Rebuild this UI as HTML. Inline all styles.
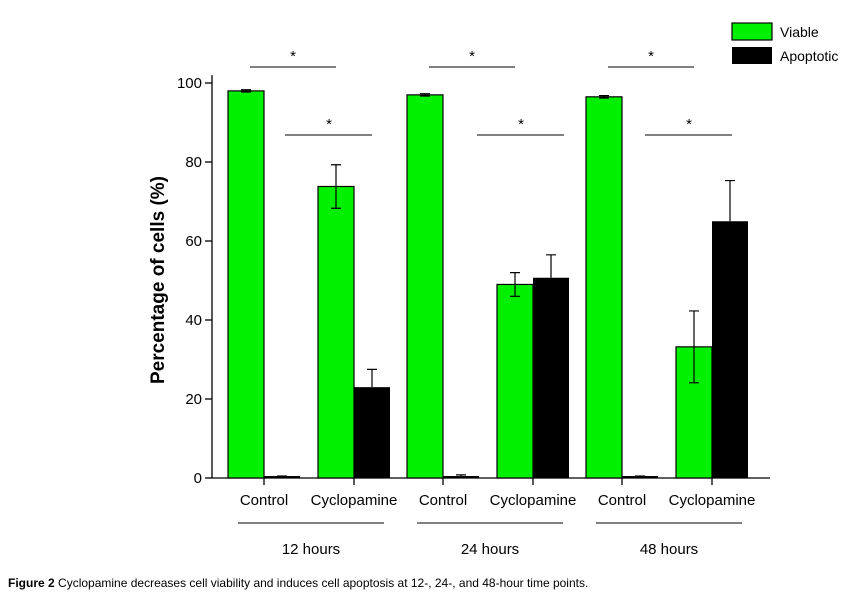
<!DOCTYPE html>
<html><head><meta charset="utf-8"><style>
body{margin:0;background:#fff;}
svg text{font-family:"Liberation Sans",Arial,sans-serif;}
</style></head><body>
<svg id="chart" width="855" height="593" xmlns="http://www.w3.org/2000/svg"></svg>
<script>
const groups=["12 hours","24 hours","48 hours"];
const conditions=["Control","Cyclopamine"];
const viable=[98,73.8,97,49,96.5,33.2];
const viableErr=[0.3,5.5,0.3,3,0.3,9.1];
const apoptotic=[0.5,23,0.5,50.7,0.5,65];
const apoptoticErr=[0,4.5,0.3,5.8,0,10.3];
const yTicks=[0,20,40,60,80,100];

const svg=document.getElementById('chart');
const NS="http://www.w3.org/2000/svg";
function el(tag,attrs,parent){const e=document.createElementNS(NS,tag);for(const k in attrs)e.setAttribute(k,attrs[k]);(parent||svg).appendChild(e);return e;}
const y0=478,y100=83;
function yS(v){return y0-(y0-y100)*v/100;}
const bw=36;
function catX(i){const g=Math.floor(i/2),c=i%2;return 264+g*179+c*90;}

const ax=el('line',{x1:212,y1:yS(102),x2:212,y2:y0,stroke:'#000','stroke-width':1.3});


const xa=el('line',{x1:212,y1:y0,x2:770,y2:y0,stroke:'#000','stroke-width':1.3});


yTicks.forEach(t=>{
  const l=el('line',{x1:205,y1:yS(t),x2:212,y2:yS(t),stroke:'#000','stroke-width':1.3});
  
  
  const tx=el('text',{x:202,y:yS(t)+5,'text-anchor':'end','font-size':15});
  tx.textContent=t;
  
  
});
const yt=el('text',{x:0,y:0,'text-anchor':'middle','font-size':19,'font-weight':'bold',transform:'translate(164,280) rotate(-90)'});
yt.textContent='Percentage of cells (%)';



for(let i=0;i<6;i++){
  const cx=catX(i);
  const vx=cx-bw/2, ax2=cx+bw/2;
  const ve=el('path',{d:`M${vx} ${yS(viable[i]-viableErr[i])}V${yS(viable[i]+viableErr[i])}M${vx-5} ${yS(viable[i]+viableErr[i])}H${vx+5}M${vx-5} ${yS(viable[i]-viableErr[i])}H${vx+5}`,stroke:'#000','stroke-width':1.2,fill:'none'});
  
  
  const vb=el('rect',{x:cx-bw,y:yS(viable[i]),width:bw,height:y0-yS(viable[i]),fill:'#00f000',stroke:'#000','stroke-width':1.2});
  
  
  const ve2=el('path',{d:`M${vx} ${yS(viable[i]-viableErr[i])}V${yS(viable[i])}M${vx-5} ${yS(viable[i]-viableErr[i])}H${vx+5}`,stroke:'#000','stroke-width':1.2,fill:'none'});
  
  
  const ae=el('path',{d:`M${ax2} ${yS(apoptotic[i])}V${yS(apoptotic[i]+apoptoticErr[i])}M${ax2-5} ${yS(apoptotic[i]+apoptoticErr[i])}H${ax2+5}`,stroke:'#000','stroke-width':1.2,fill:'none'});
  
  
  const ab=el('rect',{x:cx,y:yS(apoptotic[i]),width:bw,height:y0-yS(apoptotic[i]),fill:'#000'});
  
  
  const tk=el('line',{x1:cx,y1:y0,x2:cx,y2:y0+7,stroke:'#000','stroke-width':1.3});
  
  
  const lb=el('text',{x:cx,y:505,'text-anchor':'middle','font-size':15});
  lb.textContent=conditions[i%2];
  
  
}
const sig2Offset=[0,13,2];
for(let g=0;g<3;g++){
  const c0=catX(2*g),c1=catX(2*g+1);
  const ya=67,yb=135,o=sig2Offset[g];
  const s1=el('line',{x1:c0-14,y1:ya,x2:c1-18,y2:ya,stroke:'#000','stroke-width':1,'shape-rendering':'crispEdges'});
  
  
  const t1=el('text',{x:(c0+c1)/2-16,y:ya-6,'text-anchor':'middle','font-size':15});
  t1.textContent='*';
  
  
  const s2=el('line',{x1:c0+21+o,y1:yb,x2:c1+18+o,y2:yb,stroke:'#000','stroke-width':1,'shape-rendering':'crispEdges'});
  
  
  const t2=el('text',{x:(c0+c1)/2+20+o,y:yb-6,'text-anchor':'middle','font-size':15});
  t2.textContent='*';
  
  
  const gl=el('line',{x1:c0-26,y1:523,x2:c1+30,y2:523,stroke:'#000','stroke-width':1,'shape-rendering':'crispEdges'});
  
  
  const gt=el('text',{x:(c0+c1)/2+2,y:554,'text-anchor':'middle','font-size':15});
  gt.textContent=groups[g];
  
  
}
const lg=el('g',{});


const r1=el('rect',{x:732,y:23,width:40,height:17,fill:'#00f000',stroke:'#000','stroke-width':1.2},lg);


const l1=el('text',{x:780,y:37,'font-size':14},lg);
l1.textContent='Viable';


const r2=el('rect',{x:732,y:47,width:40,height:17,fill:'#000'},lg);


const l2=el('text',{x:780,y:61,'font-size':14},lg);
l2.textContent='Apoptotic';


const cap=el('text',{x:8,y:587,'font-size':12});


const b=el('tspan',{'font-weight':'bold'},cap);b.textContent='Figure 2';
const rest=el('tspan',{},cap);rest.textContent=' Cyclopamine decreases cell viability and induces cell apoptosis at 12-, 24-, and 48-hour time points.';
</script>
</body></html>
